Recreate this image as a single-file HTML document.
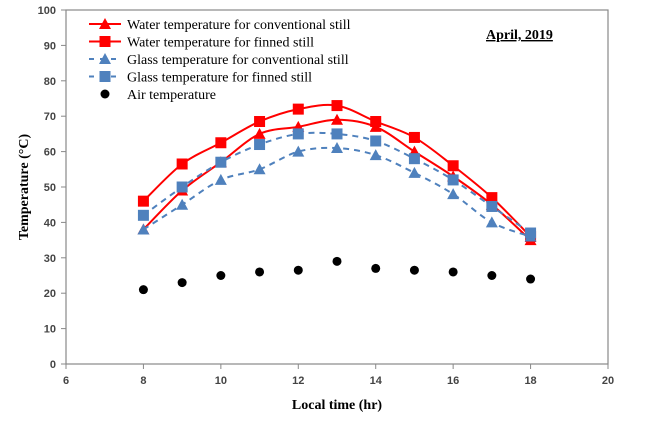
<!DOCTYPE html>
<html><head><meta charset="utf-8"><style>
body{margin:0;background:#fff;width:650px;height:423px;overflow:hidden}
text{font-family:"Liberation Serif",serif}
</style></head><body>
<svg id="chart" width="650" height="423" xmlns="http://www.w3.org/2000/svg"></svg>
<script>
const hours=[8,9,10,11,12,13,14,15,16,17,18];
const waterConv=[38,49,57,65,67,69,67,60,53,45,35];
const waterFinned=[46,56.5,62.5,68.5,72,73,68.5,64,56,47,36];
const glassConv=[38,45,52,55,60,61,59,54,48,40,36];
const glassFinned=[42,50,57,62,65,65,63,58,52,44.5,37];
const airTemp=[21,23,25,26,26.5,29,27,26.5,26,25,24];
const xTicks=[6,8,10,12,14,16,18,20];
const yTicks=[0,10,20,30,40,50,60,70,80,90,100];
const L=66,R=608,T=10,B=364;
const sx=v=>L+(v-6)/(20-6)*(R-L);
const sy=v=>B-v/100*(B-T);
const svg=document.getElementById('chart');
const NS='http://www.w3.org/2000/svg';
function mk(tag,attrs,parent){const e=document.createElementNS(NS,tag);for(const k in attrs)e.setAttribute(k,attrs[k]);(parent||svg).appendChild(e);return e;}
let e=mk('rect',{x:L,y:T,width:R-L,height:B-T,fill:'none',stroke:'#888','stroke-width':1.2});


yTicks.forEach(v=>{mk('line',{x1:L-5,x2:L,y1:sy(v),y2:sy(v),stroke:'#888'});
 const t=mk('text',{x:L-10,y:sy(v)+4,'text-anchor':'end','font-size':11,'font-weight':'bold',fill:'#444',style:'font-family:"Liberation Sans",sans-serif'});t.textContent=v;
 
 });
xTicks.forEach(v=>{mk('line',{x1:sx(v),x2:sx(v),y1:B,y2:B+5,stroke:'#888'});
 const t=mk('text',{x:sx(v),y:B+20,'text-anchor':'middle','font-size':11,'font-weight':'bold',fill:'#444',style:'font-family:"Liberation Sans",sans-serif'});t.textContent=v;
 
 });
let xt=mk('text',{x:sx(13),y:409,'text-anchor':'middle','font-size':14,'font-weight':'bold'});xt.textContent='Local time (hr)';


let yt=mk('text',{x:0,y:0,transform:`translate(28,${(T+B)/2}) rotate(-90)`,'text-anchor':'middle','font-size':14,'font-weight':'bold'});yt.textContent='Temperature (°C)';


let ti=mk('text',{x:486,y:39,'font-size':14,'font-weight':'bold','text-decoration':'underline'});ti.textContent='April, 2019';


function smooth(pts){let d=`M${pts[0][0]},${pts[0][1]}`;for(let i=0;i<pts.length-1;i++){const p0=pts[i-1]||pts[i],p1=pts[i],p2=pts[i+1],p3=pts[i+2]||p2;
 d+=` C${p1[0]+(p2[0]-p0[0])/6},${p1[1]+(p2[1]-p0[1])/6} ${p2[0]-(p3[0]-p1[0])/6},${p2[1]-(p3[1]-p1[1])/6} ${p2[0]},${p2[1]}`;}return d;}
function marker(g,type,x,y,color){if(type==='tri')return mk('polygon',{points:`${x},${y-6} ${x-6},${y+5} ${x+6},${y+5}`,fill:color},g);
 if(type==='sq')return mk('rect',{x:x-5.5,y:y-5.5,width:11,height:11,fill:color},g);
 return mk('circle',{cx:x,cy:y,r:4.5,fill:color},g);}
const series=[
 {name:'water-conventional',vals:waterConv,color:'#ff0000',dash:null,m:'tri',label:'Water temperature for conventional still'},
 {name:'water-finned',vals:waterFinned,color:'#ff0000',dash:null,m:'sq',label:'Water temperature for finned still'},
 {name:'glass-conventional',vals:glassConv,color:'#4f81bd',dash:'6,5',m:'tri',label:'Glass temperature for conventional still'},
 {name:'glass-finned',vals:glassFinned,color:'#4f81bd',dash:'6,5',m:'sq',label:'Glass temperature for finned still'},
 {name:'air',vals:airTemp,color:'#000',dash:null,m:'dot',label:'Air temperature',noline:true}];
series.forEach((s,si)=>{const g=mk('g',{});
 
 
 const pts=hours.map((h,i)=>[sx(h),sy(s.vals[i])]);
 if(!s.noline){const a={d:smooth(pts),fill:'none',stroke:s.color,'stroke-width':2};if(s.dash)a['stroke-dasharray']=s.dash;mk('path',a,g);}
 pts.forEach(p=>{const m=marker(g,s.m,p[0],p[1],s.color);
  
  });
 const ly=24+si*17.5;const lg=mk('g',{});
 
 
 if(!s.noline){const a={x1:89,x2:121,y1:ly,y2:ly,stroke:s.color,'stroke-width':2};if(s.dash)a['stroke-dasharray']='5,6';mk('line',a,lg);}
 marker(lg,s.m,105,ly,s.color);
 const t=mk('text',{x:127,y:ly+5,'font-size':14},lg);t.textContent=s.label;});
</script>
</body></html>
